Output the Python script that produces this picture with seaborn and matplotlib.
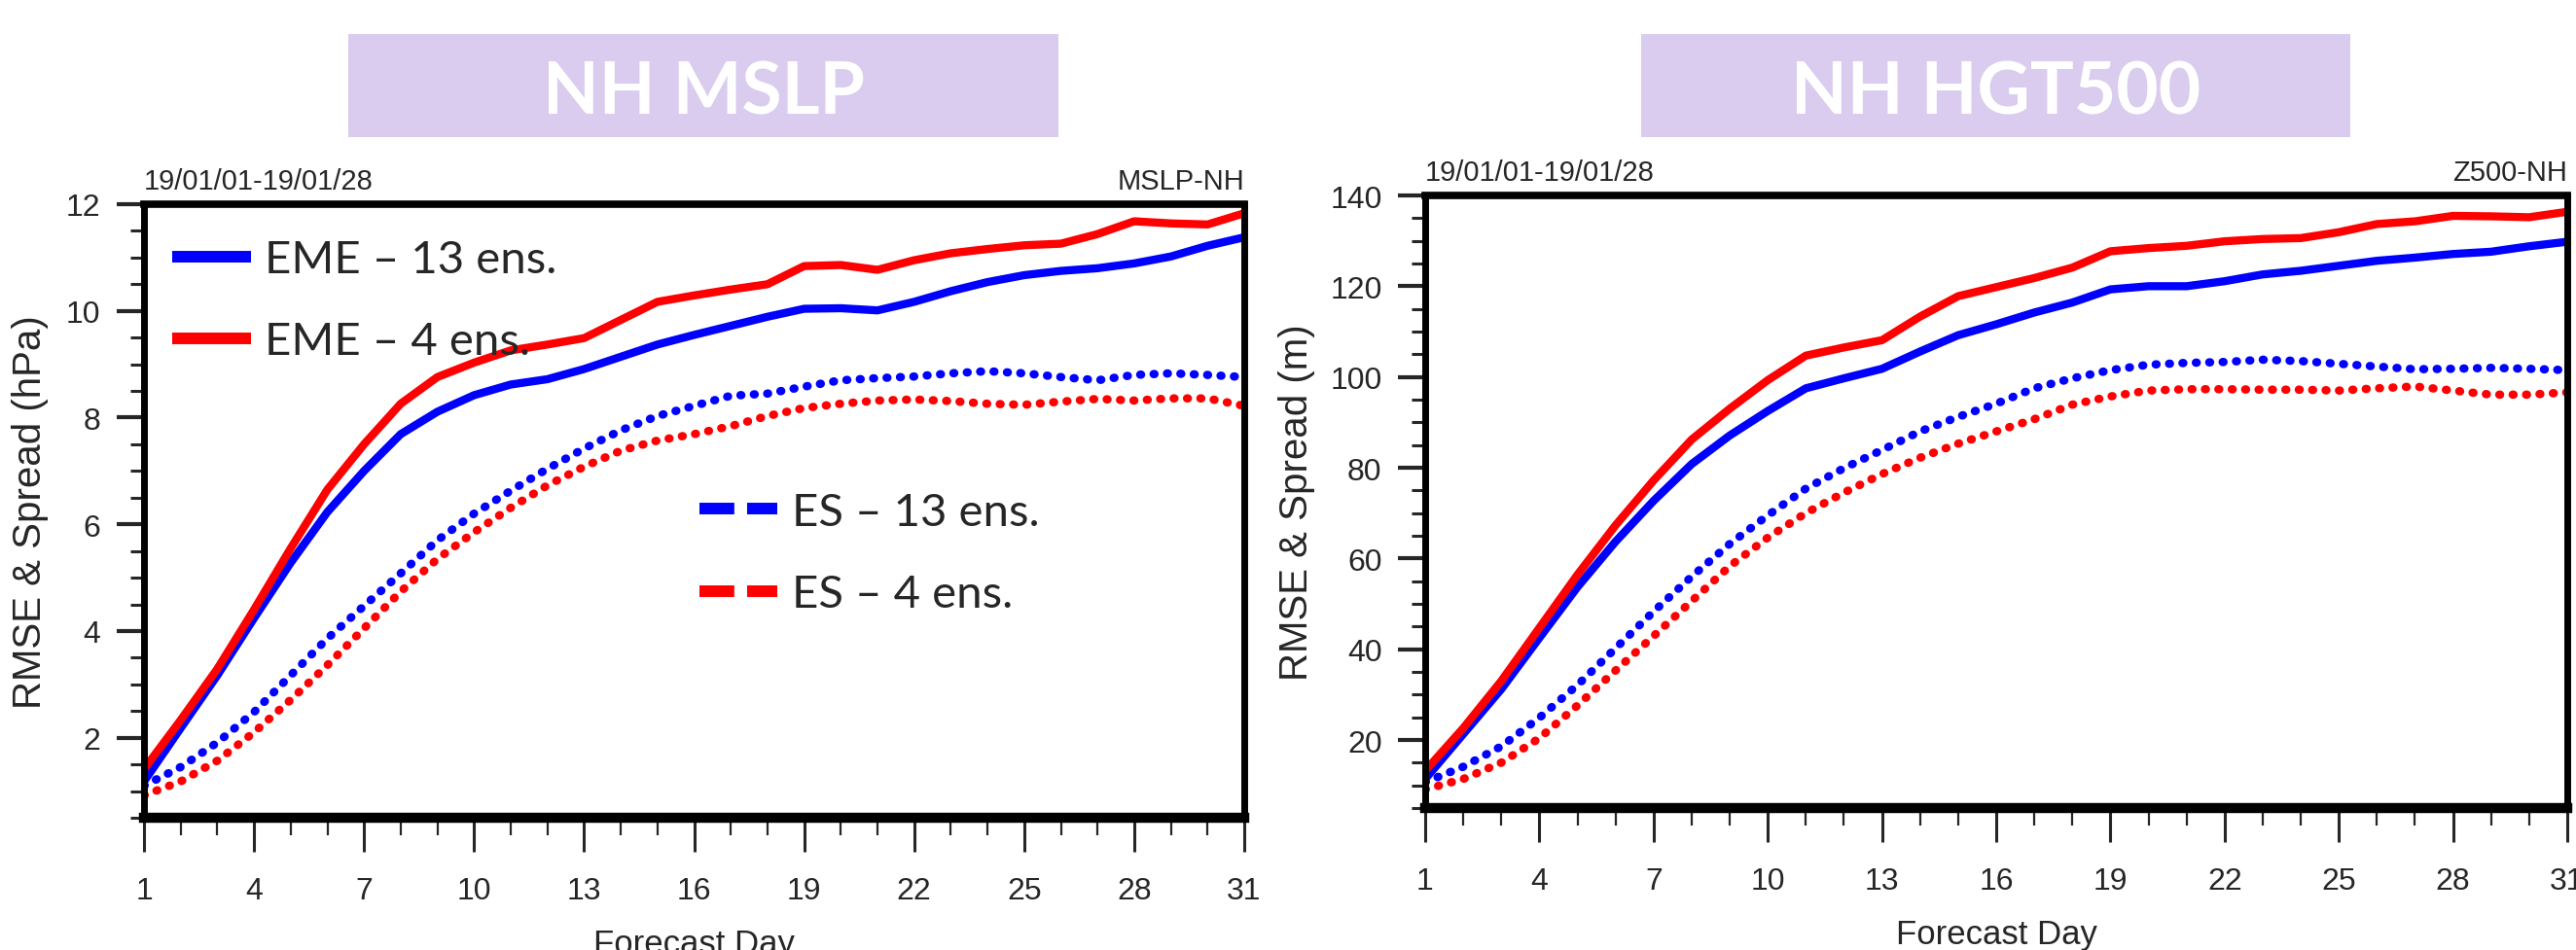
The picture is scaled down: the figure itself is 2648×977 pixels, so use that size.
import matplotlib
matplotlib.use("Agg")
import matplotlib.pyplot as plt
import matplotlib.patches as mpatches
from matplotlib import font_manager
from matplotlib.lines import Line2D
import seaborn as sns

# forecast days
days = list(range(1, 32))

# NH MSLP (hPa): ensemble mean error and ensemble spread
mslp_eme_13 = [1.18, 2.18, 3.17, 4.24, 5.28, 6.23, 7.00, 7.69, 8.11, 8.42,
               8.62, 8.72, 8.91, 9.14, 9.37, 9.55, 9.72, 9.89, 10.04, 10.05,
               10.01, 10.17, 10.37, 10.54, 10.67, 10.75, 10.80, 10.89, 11.02, 11.22, 11.38]
mslp_eme_4 = [1.41, 2.33, 3.29, 4.40, 5.55, 6.65, 7.50, 8.26, 8.76, 9.03,
              9.26, 9.37, 9.49, 9.83, 10.17, 10.29, 10.40, 10.50, 10.84, 10.86,
              10.77, 10.95, 11.08, 11.16, 11.23, 11.26, 11.44, 11.68, 11.64, 11.62, 11.83]
mslp_es_13 = [1.10, 1.45, 1.91, 2.48, 3.17, 3.86, 4.47, 5.08, 5.70, 6.20,
              6.63, 7.04, 7.42, 7.76, 8.03, 8.22, 8.41, 8.45, 8.58, 8.70,
              8.74, 8.77, 8.83, 8.87, 8.83, 8.76, 8.70, 8.80, 8.83, 8.80, 8.76]
mslp_es_4 = [0.92, 1.18, 1.57, 2.10, 2.71, 3.36, 4.05, 4.74, 5.35, 5.85,
             6.31, 6.73, 7.08, 7.38, 7.57, 7.69, 7.84, 8.03, 8.18, 8.26,
             8.32, 8.34, 8.31, 8.26, 8.24, 8.30, 8.35, 8.32, 8.36, 8.36, 8.22]

# NH HGT500 (m)
z500_eme_13 = [11.4, 21.3, 31.2, 42.5, 53.7, 63.7, 72.7, 80.8, 87.1, 92.5,
               97.5, 99.7, 101.8, 105.6, 109.2, 111.6, 114.2, 116.4, 119.3, 120.0,
               120.0, 121.1, 122.6, 123.4, 124.5, 125.6, 126.3, 127.1, 127.6, 128.8, 129.8]
z500_eme_4 = [13.2, 22.6, 33.0, 44.7, 56.4, 67.3, 77.2, 86.2, 93.0, 99.3,
              104.7, 106.5, 108.1, 113.3, 117.8, 119.8, 121.8, 124.1, 127.7, 128.4,
              128.9, 129.9, 130.4, 130.6, 131.9, 133.7, 134.3, 135.5, 135.4, 135.2, 136.4]
z500_es_13 = [10.7, 14.1, 18.6, 24.9, 32.1, 40.2, 48.3, 56.0, 63.2, 69.5,
              75.4, 79.9, 83.9, 88.0, 91.2, 94.1, 97.5, 99.7, 101.5, 102.7,
              103.1, 103.3, 103.8, 103.5, 102.9, 102.3, 101.7, 101.8, 102.0, 101.8, 101.5]
z500_es_4 = [9.1, 11.4, 15.0, 20.4, 27.6, 35.3, 42.9, 50.6, 58.3, 64.6,
             70.0, 74.5, 78.6, 82.2, 85.3, 88.0, 90.7, 93.9, 95.7, 97.0,
             97.3, 97.3, 97.2, 97.2, 97.0, 97.5, 97.9, 97.0, 96.1, 96.1, 96.6]

legend_labels = ["EME \u2013 13 ens.", "EME \u2013 4 ens.", "ES \u2013 13 ens.", "ES \u2013 4 ens."]
BLUE = "#0000FF"
RED = "#FF0000"
BOX = "#D9CCEE"

sns.set_style("white")
installed = {f.name for f in font_manager.fontManager.ttflist}
ncl_font = "Liberation Sans Narrow" if "Liberation Sans Narrow" in installed else "Liberation Sans"
slide_font = "Lato" if "Lato" in installed else "DejaVu Sans"
plt.rcParams["font.family"] = [ncl_font, "DejaVu Sans"]

DOTS = (0, (0.1, 1.5))

fig = plt.figure(figsize=(26.48, 9.78), dpi=100)
fig.patch.set_facecolor("white")

panels = [
    dict(rect=[148 / 2648, 136 / 978, 1131 / 2648, 631 / 978],
         series=[mslp_eme_13, mslp_eme_4, mslp_es_13, mslp_es_4],
         ylim=(0.5, 12), major=range(2, 13, 2), minor=[0.5 + 0.5 * i for i in range(24)],
         ylabel="RMSE & Spread (hPa)", label_x=-0.087, right_tag="MSLP-NH", title="NH MSLP",
         box=[358 / 2648, 836 / 978, 730 / 2648, 106 / 978]),
    dict(rect=[1465 / 2648, 146 / 978, 1174 / 2648, 630 / 978],
         series=[z500_eme_13, z500_eme_4, z500_es_13, z500_es_4],
         ylim=(5, 140), major=range(20, 141, 20), minor=range(5, 141, 5),
         ylabel="RMSE & Spread (m)", label_x=-0.096, right_tag="Z500-NH", title="NH HGT500",
         box=[1687 / 2648, 836 / 978, 729 / 2648, 106 / 978]),
]

for i, p in enumerate(panels):
    ax = fig.add_axes(p["rect"])
    eme13, eme4, es13, es4 = p["series"]
    sns.lineplot(x=days, y=es13, ax=ax, color=BLUE, lw=6.2, linestyle=DOTS,
                 dash_capstyle="round")
    sns.lineplot(x=days, y=es4, ax=ax, color=RED, lw=6.2, linestyle=DOTS,
                 dash_capstyle="round")
    sns.lineplot(x=days, y=eme13, ax=ax, color=BLUE, lw=6)
    sns.lineplot(x=days, y=eme4, ax=ax, color=RED, lw=6)

    ax.set_xlim(1, 31)
    ax.set_ylim(*p["ylim"])
    ax.set_xticks(range(1, 32, 3))
    ax.set_xticks(range(1, 32), minor=True)
    ax.set_yticks(list(p["major"]))
    ax.set_yticks(list(p["minor"]), minor=True)
    ax.tick_params(axis="x", which="major", direction="out", length=25, width=2.2,
                   pad=18, labelsize=23, bottom=True, top=False)
    ax.tick_params(axis="x", which="minor", direction="out", length=13, width=1.6,
                   bottom=True, top=False)
    ax.tick_params(axis="y", which="major", direction="out", length=20, width=3,
                   pad=12, labelsize=23, left=True, right=False)
    ax.tick_params(axis="y", which="minor", direction="out", length=10, width=2.2,
                   left=True, right=False)
    ax.grid(False)

    for side, w in [("top", 5.5), ("bottom", 7.5), ("left", 5), ("right", 5)]:
        ax.spines[side].set_visible(True)
        ax.spines[side].set_color("black")
        ax.spines[side].set_linewidth(w)

    ax.set_xlabel("Forecast Day", fontsize=25, labelpad=17)
    ax.set_ylabel(p["ylabel"], fontsize=29, family=["Liberation Sans", "DejaVu Sans"])
    ax.yaxis.set_label_coords(p["label_x"], 0.5)

    ax.text(0, 1.025, "19/01/01-19/01/28", transform=ax.transAxes, fontsize=21,
            ha="left", va="baseline")
    ax.text(1, 1.025, p["right_tag"], transform=ax.transAxes, fontsize=21,
            ha="right", va="baseline")

    # slide-style title box above each panel
    bx, by, bw, bh = p["box"]
    fig.add_artist(mpatches.Rectangle((bx, by), bw, bh, transform=fig.transFigure,
                                      facecolor=BOX, edgecolor="none"))
    fig.text(bx + bw / 2, 861 / 978, p["title"], ha="center", va="baseline",
             color="white", fontsize=54, fontweight="bold", family=[slide_font, "DejaVu Sans"])

    if i == 0:
        eme_handles = [Line2D([], [], color=BLUE, lw=8.6, solid_capstyle="butt"),
                       Line2D([], [], color=RED, lw=8.6, solid_capstyle="butt")]
        leg1 = ax.legend(eme_handles, legend_labels[:2], loc="center left",
                         bbox_to_anchor=(0.026, 0.843), frameon=False, borderpad=0,
                         borderaxespad=0, handlelength=1.7, handletextpad=0.3,
                         labelspacing=0.89, prop={"family": slide_font, "size": 34})
        ax.add_artist(leg1)
        es_handles = [Line2D([], [], color=BLUE, lw=8.6, linestyle=(0, (3.0, 1.1)),
                             dash_capstyle="butt"),
                      Line2D([], [], color=RED, lw=8.6, linestyle=(0, (3.0, 1.1)),
                             dash_capstyle="butt")]
        ax.legend(es_handles, legend_labels[2:], loc="center left",
                  bbox_to_anchor=(0.505, 0.431), frameon=False, borderpad=0,
                  borderaxespad=0, handlelength=1.7, handletextpad=0.3,
                  labelspacing=0.89, prop={"family": slide_font, "size": 34})

fig.savefig("out.png", dpi=100, facecolor="white")
